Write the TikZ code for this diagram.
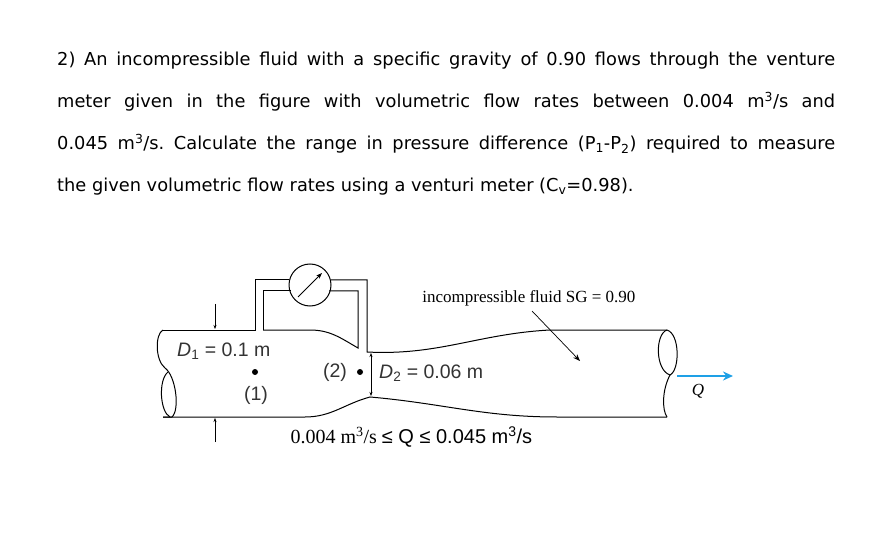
\documentclass[tikz,border=0pt]{standalone}
\usepackage{fontspec}
\setmainfont{Liberation Serif}
\newfontfamily\parfont{DejaVu Sans}
\newfontfamily\helv{Liberation Sans}
\usetikzlibrary{arrows.meta}
\newcommand\fullline[1]{\hbox to 778pt{#1}}
\frenchspacing
\begin{document}
\begin{tikzpicture}[x=1pt,y=-1pt,
  pipe/.style={line width=1pt},
  dim/.style={line width=0.5pt,-{Stealth[length=4pt,width=3pt]}},
  lbl/.style={font=\helv\fontsize{19.5}{22}\selectfont,inner sep=0pt,color=black!80}]
\useasboundingbox (0,0) rectangle (886,553);
\node[anchor=north west,align=left,inner sep=0pt,font=\parfont\fontsize{17.8}{42}\selectfont] (para) at (57,52)
{\fullline{2) An incompressible fluid with a specific gravity of 0.90 flows through the venture}\\
\fullline{meter given in the figure with volumetric flow rates between 0.004 m\textsuperscript{3}/s and}\\
\fullline{0.045 m\textsuperscript{3}/s. Calculate the range in pressure difference (P\textsubscript{1}-P\textsubscript{2}) required to measure}\\
the given volumetric flow rates using a venturi meter (C\textsubscript{v}=0.98).};
% pipe outline
\draw[pipe] (163,330) -- (255,330) -- (255,280) -- (289,280);
\draw[pipe] (331,280) -- (367,280) -- (367,352) to[out=-3,in=183] (550,330) -- (667,330);
\draw[pipe] (263,330) -- (263,291) -- (291,291);
\draw[pipe] (329,291) -- (358,291) -- (358,348) to[out=150,in=0] (310,330) -- (263,330);
\draw[pipe] (163,417) -- (305,417) to[out=0,in=195] (370,397) to[out=-5,in=180] (557,417) -- (667,417);
% gauge
\node[draw,circle,minimum size=42pt,line width=1pt,inner sep=0pt] (g) at (310,285) {};
\draw[line width=1pt,-{Stealth[length=6pt]}] (298,297) -- (322,273);
% left break
\draw[pipe] (163,330) .. controls (155,334) and (155,360) .. (165,368) .. controls (176,376) and (180,410) .. (172,417) -- (163,417);
\draw[pipe] (168,372) .. controls (158,380) and (160,412) .. (170,417);
% right break
\draw[pipe] (667,330) .. controls (655,334) and (655,370) .. (670,375) .. controls (680,370) and (680,334) .. (667,330);
\draw[pipe] (670,375) .. controls (662,390) and (662,410) .. (667,417);
% flow arrow
\coordinate (qs) at (677,376); \coordinate (qe) at (733,376);
\draw[line width=2.2pt,color={rgb,255:red,30;green,160;blue,230},-{Stealth[length=10pt,width=9pt]}] (qs) -- (qe);
\node[font=\itshape\fontsize{17}{20}\selectfont] (q) at (698,391) {Q};
% dims
\coordinate (a1) at (215,304); \coordinate (a2) at (215,329);
\draw[dim] (a1) -- (a2);
\coordinate (b1) at (215,442); \coordinate (b2) at (215,418);
\draw[dim] (b1) -- (b2);
\coordinate (c1) at (371,353); \coordinate (c2) at (371,396);
\draw[dim,{Stealth[length=4pt,width=3pt]}-{Stealth[length=4pt,width=3pt]}] (c1) -- (c2);
% labels
\node[lbl,anchor=west] (d1) at (177,351) {\textit{D}\textsubscript{1} = 0.1 m};
\fill (255,372) circle (3pt);
\node[lbl] (p1) at (256,395) {(1)};
\node[lbl] (p2) at (335,372) {(2)};
\fill (360,372) circle (3pt);
\node[lbl,anchor=west] (d2) at (379,373) {\textit{D}\textsubscript{2} = 0.06 m};
\node[font=\fontsize{17}{20}\selectfont,anchor=east] (fl) at (639,298) {incompressible fluid SG = 0.90};
\draw[line width=0.7pt,-{Stealth[length=7pt]}] (532,311) -- (580,361);
\node[font=\fontsize{20}{22}\selectfont,anchor=west] (rng) at (287,437) {0.004 m\textsuperscript{3}/s {\helv ≤ Q ≤ 0.045 m\textsuperscript{3}/s}};
\end{tikzpicture}
\end{document}
